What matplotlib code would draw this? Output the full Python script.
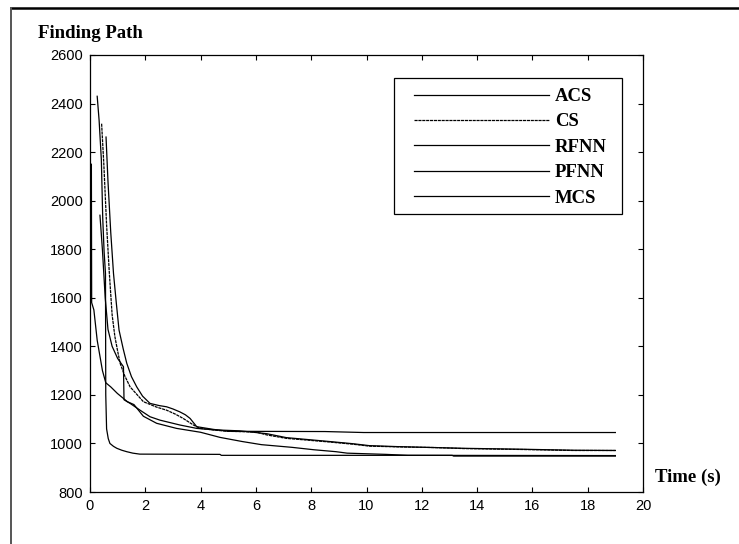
import matplotlib
matplotlib.use("Agg")
import matplotlib.pyplot as plt
from matplotlib.lines import Line2D
from matplotlib.patches import Rectangle

# time (s) and path length
acs_t = [0.58, 0.65, 0.75, 0.85, 0.95, 1.05, 1.2, 1.33, 1.5, 1.69, 1.9, 2.17, 2.5, 2.77,
         3.0, 3.25, 3.45, 3.62, 3.86, 4.46, 5.0, 8.5, 9.9, 15.7, 19.0]
acs_v = [2262, 2080, 1870, 1700, 1580, 1467, 1390, 1330, 1275, 1233, 1195, 1165, 1156, 1151,
         1142, 1130, 1118, 1103, 1069, 1058, 1050, 1049, 1045, 1045, 1045]

cs_t = [0.42, 0.5, 0.6, 0.7, 0.8, 0.9, 1.0, 1.09, 1.25, 1.45, 1.93, 2.4, 2.77, 3.1, 3.37,
        3.74, 3.98, 4.5, 5.0, 6.0, 6.4, 7.1, 8.56, 9.5, 10.1, 11.1, 12.5, 13.5, 15.7, 17.5, 19.0]
cs_v = [2317, 2150, 1900, 1700, 1530, 1440, 1380, 1330, 1280, 1233, 1172, 1150, 1137, 1120, 1103,
        1076, 1062, 1055, 1050, 1047, 1035, 1021, 1007, 997, 989, 986, 983, 979, 975, 971, 971]

rfnn_t = [0.36, 0.45, 0.55, 0.65, 0.8, 1.0, 1.21, 1.23, 1.45, 1.81, 2.17, 2.53, 3.25, 3.86,
          4.5, 5.4, 6.0, 6.4, 7.1, 8.56, 9.5, 10.1, 11.1, 13.5, 15.7, 17.5, 19.0]
rfnn_v = [1940, 1796, 1600, 1470, 1400, 1350, 1316, 1180, 1165, 1137, 1110, 1096, 1076, 1062,
          1056, 1052, 1045, 1040, 1024, 1009, 999, 991, 987, 980, 976, 972, 971]

pfnn_t = [0.05, 0.06, 0.14, 0.26, 0.45, 0.57, 0.75, 0.99, 1.35, 1.59, 1.93, 2.41, 3.13, 4.0,
          4.7, 5.5, 6.2, 7.3, 8.1, 8.9, 9.3, 10.7, 11.5, 19.0]
pfnn_v = [2150, 1580, 1550, 1425, 1300, 1250, 1233, 1206, 1172, 1160, 1112, 1083, 1062, 1046,
          1025, 1008, 995, 984, 974, 966, 960, 955, 951, 950]

mcs_t = [0.26, 0.33, 0.41, 0.46, 0.51, 0.56, 0.57, 0.60, 0.66, 0.72, 0.85, 0.97, 1.15, 1.33,
         1.55, 1.8, 4.7, 4.75, 13.1, 13.15, 19.0]
mcs_v = [2430, 2330, 2170, 1930, 1790, 1700, 1200, 1060, 1020, 1000, 988, 980, 972, 966,
         960, 956, 955, 951, 951, 948, 948]

labels = ["ACS", "CS", "RFNN", "PFNN", "MCS"]
xticks = list(range(0, 21, 2))
yticks = list(range(800, 2601, 200))

plt.rcParams['font.family'] = ['Liberation Sans', 'DejaVu Sans']

W, H = 739, 544
fig = plt.figure(figsize=(W / 100, H / 100), dpi=100)
ax = fig.add_axes([90 / W, 1 - 492 / H, 553 / W, 437 / H])

lw = 0.9
ax.plot(acs_t, acs_v, color='black', lw=lw, label=labels[0])
ax.plot(cs_t, cs_v, color='black', lw=lw, linestyle=(0, (2.5, 0.6)), label=labels[1])
ax.plot(rfnn_t, rfnn_v, color='black', lw=lw, label=labels[2])
ax.plot(pfnn_t, pfnn_v, color='black', lw=lw, label=labels[3])
ax.plot(mcs_t, mcs_v, color='black', lw=lw, label=labels[4])

ax.set_xlim(0, 20)
ax.set_ylim(800, 2600)
ax.set_xticks(xticks)
ax.set_yticks(yticks)
ax.tick_params(direction='in', length=3.6, width=0.8, top=True, right=True,
               labelsize=10.5, pad=5)
for s in ax.spines.values():
    s.set_linewidth(0.9)
    s.set_color('black')

# legend without its own frame, boxed separately to match the scan's padding
leg = ax.legend(loc='upper left', bbox_to_anchor=(414 / W, 1 - 88 / H),
                bbox_transform=fig.transFigure, frameon=False,
                prop={'family': 'Liberation Serif', 'weight': 'bold', 'size': 13.5},
                handlelength=7.2, handletextpad=0.3, labelspacing=0.44,
                borderpad=0, borderaxespad=0)
fig.add_artist(Rectangle((394 / W, 1 - 214 / H), 228 / W, 136 / H,
                         transform=fig.transFigure, fill=False,
                         edgecolor='black', lw=0.9))

fig.text(38 / W, 1 - 33 / H, "Finding Path", family='Liberation Serif',
         weight='bold', fontsize=13.5, ha='left', va='center')
fig.text(655 / W, 1 - 477 / H, "Time (s)", family='Liberation Serif',
         weight='bold', fontsize=13.5, ha='left', va='center')

# scanned page frame
fig.add_artist(Line2D([11 / W, 1], [1 - 8 / H] * 2, transform=fig.transFigure,
                      color='black', lw=1.8))
fig.add_artist(Line2D([11 / W] * 2, [0, 1 - 8 / H], transform=fig.transFigure,
                      color='#555555', lw=1.4))

fig.savefig('out.png', dpi=100)
